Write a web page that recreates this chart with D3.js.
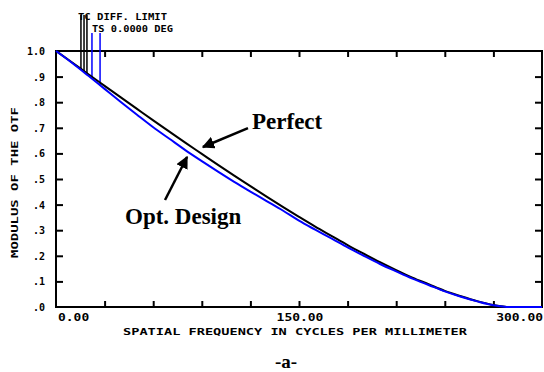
<!DOCTYPE html>
<html><head><meta charset="utf-8">
<script src="https://cdn.jsdelivr.net/npm/d3@7"></script>
<style>
body{margin:0;background:#fff;}
svg{display:block;}
.pix{font-family:"DejaVu Sans Mono",monospace;font-weight:bold;fill:#000;}
.ann{font-family:"Liberation Serif","Times New Roman",serif;font-weight:bold;fill:#000;}
</style></head>
<body>
<script>
// ---- data ----
const freq = [0,10,20,30,40,50,60,70,80,90,100,110,120,130,140,150,160,170,180,190,200,210,220,230,240,250,260,270,280,290,300];
const perfect = [1.000,0.955,0.909,0.864,0.819,0.774,0.729,0.685,0.641,0.598,0.555,0.513,0.472,0.431,0.391,0.352,0.314,0.278,0.242,0.208,0.175,0.144,0.115,0.089,0.063,0.042,0.023,0.008,0.000,0.000,0.000];
const optDesign = [1.000,0.953,0.903,0.852,0.801,0.751,0.702,0.657,0.612,0.570,0.529,0.489,0.451,0.414,0.377,0.337,0.302,0.268,0.233,0.200,0.168,0.139,0.111,0.086,0.061,0.040,0.022,0.007,0.000,0.000,0.000];
const xTicks = [0,30,60,90,120,150,180,210,240,270,300];
const xTickLabels = [[0,"0.00"],[150,"150.00"],[300,"300.00"]];
const yTicks = [0,0.1,0.2,0.3,0.4,0.5,0.6,0.7,0.8,0.9,1.0];
const yTickLabels = ["1.0",".9",".8",".7",".6",".5",".4",".3",".2",".1",".0"];
const headerLines = ["TC DIFF. LIMIT","TS 0.0000 DEG"];
const markerBlack = [15.4,17.3,19.1];
const markerBlue = [22.2,27.2];

const W=544,H=372;
const svg=d3.select("body").append("svg").attr("width",W).attr("height",H);
const x=d3.scaleLinear().domain([0,300]).range([56,542]);
const y=d3.scaleLinear().domain([0,1]).range([307,51]);

// frame
svg.append("rect").attr("x",x(0)).attr("y",y(1)).attr("width",x(300)-x(0)).attr("height",y(0)-y(1))
  .attr("fill","none").attr("stroke","#000").attr("stroke-width",2);

// axes with inward ticks
function styleAxis(g){g.select(".domain").remove();g.selectAll("text").remove();g.selectAll("line").attr("stroke","#000").attr("stroke-width",2);}
svg.append("g").attr("transform",`translate(0,${y(0)})`).call(d3.axisBottom(x).tickValues(xTicks.slice(1,-1)).tickSize(-6)).call(styleAxis);
svg.append("g").attr("transform",`translate(0,${y(1)})`).call(d3.axisTop(x).tickValues(xTicks.slice(1,-1)).tickSize(-6)).call(styleAxis);
svg.append("g").attr("transform",`translate(${x(0)},0)`).call(d3.axisLeft(y).tickValues(yTicks.slice(1,-1)).tickSize(-7)).call(styleAxis);
svg.append("g").attr("transform",`translate(${x(300)},0)`).call(d3.axisRight(y).tickValues(yTicks.slice(1,-1)).tickSize(-7)).call(styleAxis);

// tick labels
const anchors=["start","middle","end"];
xTickLabels.forEach((d,i)=>{
  const w=d[1].length*7.8;
  let xs = anchors[i]==="start"? x(d[0])+2 : anchors[i]==="middle"? x(d[0])-w/2+1 : x(d[0])-w+1;
  svg.append("text").attr("class","pix").attr("x",xs).attr("y",321).attr("font-size",10)
    .attr("textLength",w).attr("lengthAdjust","spacingAndGlyphs").text(d[1]);
});
yTicks.slice().reverse().forEach((v,i)=>{
  const t=yTickLabels[i];
  svg.append("text").attr("class","pix").attr("x",45).attr("y",y(v)+4).attr("font-size",10)
    .attr("text-anchor","end").text(t);
});

// axis titles
svg.append("text").attr("class","pix").attr("x",123).attr("y",335).attr("font-size",9)
  .attr("textLength",344).attr("lengthAdjust","spacingAndGlyphs").text("SPATIAL FREQUENCY IN CYCLES PER MILLIMETER");
svg.append("text").attr("class","pix").attr("transform","translate(18,258) rotate(-90)").attr("font-size",9)
  .attr("textLength",151).attr("lengthAdjust","spacingAndGlyphs").text("MODULUS OF THE OTF");

// header
svg.append("text").attr("class","pix").attr("x",78).attr("y",20).attr("font-size",9)
  .attr("textLength",89).attr("lengthAdjust","spacingAndGlyphs").text(headerLines[0]);
svg.append("text").attr("class","pix").attr("x",92).attr("y",32).attr("font-size",9)
  .attr("textLength",81).attr("lengthAdjust","spacingAndGlyphs").text(headerLines[1]);

const interp=(arr,f)=>{const i=d3.bisectRight(freq,f)-1;const t=(f-freq[i])/(freq[i+1]-freq[i]);return arr[i]+t*(arr[i+1]-arr[i]);};
markerBlack.forEach(f=>{
  svg.append("line").attr("x1",x(f)).attr("x2",x(f)).attr("y1",15).attr("y2",y(interp(perfect,f)))
    .attr("stroke","#000").attr("stroke-width",1.5);
});
markerBlue.forEach(f=>{
  svg.append("line").attr("x1",x(f)).attr("x2",x(f)).attr("y1",33).attr("y2",y(interp(optDesign,f)))
    .attr("stroke","#0000ff").attr("stroke-width",1.5);
});

// curves
const line=d3.line().x((d,i)=>x(freq[i])).y(d=>y(d)).curve(d3.curveMonotoneX);
svg.append("path").datum(perfect).attr("d",line).attr("fill","none").attr("stroke","#000").attr("stroke-width",2);
svg.append("path").datum(optDesign).attr("d",line).attr("fill","none").attr("stroke","#0000ff").attr("stroke-width",2);

// annotations
const defs=svg.append("defs");
defs.append("marker").attr("id","ah").attr("viewBox","0 0 10 10").attr("refX",9).attr("refY",5)
  .attr("markerWidth",5).attr("markerHeight",5).attr("orient","auto")
  .append("path").attr("d","M0,0 L10,5 L0,10 z").attr("fill","#000");
const annots=[
  {text:"Perfect", tx:121, ty:0.695, from:[118.5,0.699], to:[90.7,0.625]},
  {text:"Opt. Design", tx:42.6, ty:0.324, from:[67.3,0.418], to:[80.9,0.586]}
];
annots.forEach(a=>{
  svg.append("line").attr("x1",x(a.from[0])).attr("y1",y(a.from[1])).attr("x2",x(a.to[0])).attr("y2",y(a.to[1]))
    .attr("stroke","#000").attr("stroke-width",2.5).attr("marker-end","url(#ah)");
  svg.append("text").attr("class","ann").attr("x",x(a.tx)).attr("y",y(a.ty)).attr("font-size",23).text(a.text);
});

svg.append("text").attr("class","ann").attr("x",286).attr("y",368).attr("font-size",19).attr("text-anchor","middle").text("-a-");
</script>
</body></html>
